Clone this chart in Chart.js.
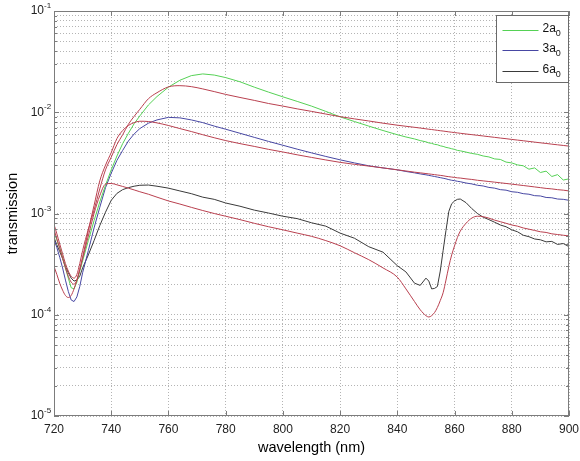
<!DOCTYPE html>
<html>
<head>
<meta charset="utf-8">
<script src="https://cdn.jsdelivr.net/npm/chart.js@4.4.1/dist/chart.umd.min.js"></script>
<style>
  html, body { margin: 0; padding: 0; background: #fff; }
</style>
</head>
<body>
<canvas id="chart" width="580" height="461"></canvas>
<script>
/* ---- wavelength grid (nm), shared by every curve ---- */
const wl = [
  720, 721, 722, 723, 724, 725, 726, 727, 728, 729, 730,
  732, 734, 736, 738, 740, 742, 744, 746, 748, 750,
  753, 756, 760, 764, 768, 772, 776, 780,
  785, 790, 795, 800, 805, 810, 815, 820, 825, 830, 835, 840,
  843, 846, 848, 850,
  851, 852, 853, 854, 855, 856, 857, 858, 859, 860, 861, 862,
  864, 866, 868, 870, 872, 874, 876, 878, 880, 882, 884, 886, 888, 890, 892, 894, 896, 898, 900
];

/* ---- measured transmission ---- */
const meas2a = [
  6.4e-4, 5.5e-4, 4.6e-4, 3.7e-4, 2.9e-4, 2.3e-4, 1.85e-4, 1.8e-4, 2.1e-4, 2.7e-4, 3.4e-4,
  5.4e-4, 8.5e-4, 1.3e-3, 1.9e-3, 2.7e-3, 3.7e-3, 4.9e-3, 6.2e-3, 7.7e-3, 9.2e-3,
  1.18e-2, 1.43e-2, 1.77e-2, 2.07e-2, 2.3e-2, 2.39e-2, 2.33e-2, 2.2e-2,
  2.0e-2, 1.77e-2, 1.58e-2, 1.42e-2, 1.28e-2, 1.15e-2, 1.02e-2, 9.0e-3, 8.1e-3, 7.3e-3, 6.6e-3, 6.0e-3,
  5.7e-3, 5.45e-3, 5.25e-3, 5.1e-3,
  4.98e-3, 4.93e-3, 4.82e-3, 4.78e-3, 4.66e-3, 4.6e-3, 4.5e-3, 4.44e-3, 4.36e-3, 4.3e-3, 4.2e-3, 4.16e-3,
  4.04e-3, 3.92e-3, 3.84e-3, 3.7e-3, 3.62e-3, 3.46e-3, 3.42e-3, 3.22e-3, 3.16e-3, 3.02e-3,
  2.96e-3, 2.74e-3, 2.82e-3, 2.54e-3, 2.62e-3, 2.32e-3, 2.42e-3, 2.14e-3, 2.2e-3
];
const meas3a = [
  5.6e-4, 4.6e-4, 3.7e-4, 2.9e-4, 2.2e-4, 1.7e-4, 1.4e-4, 1.35e-4, 1.5e-4, 1.9e-4, 2.6e-4,
  4.3e-4, 7.2e-4, 1.15e-3, 1.8e-3, 2.5e-3, 3.35e-3, 4.2e-3, 5.2e-3, 6.1e-3, 6.9e-3,
  7.8e-3, 8.4e-3, 8.9e-3, 8.8e-3, 8.4e-3, 7.9e-3, 7.3e-3, 6.8e-3,
  6.2e-3, 5.65e-3, 5.15e-3, 4.72e-3, 4.32e-3, 3.97e-3, 3.66e-3, 3.39e-3, 3.16e-3, 2.96e-3, 2.82e-3, 2.7e-3,
  2.6e-3, 2.52e-3, 2.46e-3, 2.41e-3,
  2.38e-3, 2.35e-3, 2.32e-3, 2.29e-3, 2.26e-3, 2.23e-3, 2.2e-3, 2.16e-3, 2.13e-3, 2.11e-3, 2.08e-3, 2.06e-3,
  2.0e-3, 1.96e-3, 1.9e-3, 1.87e-3, 1.81e-3, 1.78e-3, 1.72e-3, 1.7e-3, 1.64e-3, 1.62e-3,
  1.57e-3, 1.55e-3, 1.5e-3, 1.49e-3, 1.44e-3, 1.43e-3, 1.39e-3, 1.38e-3, 1.35e-3
];
const meas6a = [
  5.8e-4, 4.9e-4, 4.2e-4, 3.6e-4, 3.0e-4, 2.6e-4, 2.3e-4, 2.15e-4, 2.2e-4, 2.4e-4, 2.9e-4,
  3.9e-4, 5.4e-4, 7.6e-4, 1.03e-3, 1.35e-3, 1.58e-3, 1.72e-3, 1.8e-3, 1.86e-3, 1.9e-3,
  1.91e-3, 1.86e-3, 1.78e-3, 1.67e-3, 1.57e-3, 1.45e-3, 1.38e-3, 1.27e-3,
  1.18e-3, 1.08e-3, 1.01e-3, 9.4e-4, 8.9e-4, 8.1e-4, 7.5e-4, 6.4e-4, 5.7e-4, 4.7e-4, 4.15e-4, 3.05e-4,
  2.65e-4, 2.05e-4, 1.95e-4, 2.3e-4,
  2.15e-4, 1.8e-4, 1.82e-4, 1.9e-4, 2.7e-4, 4.3e-4, 6.8e-4, 1.05e-3, 1.25e-3, 1.33e-3, 1.38e-3, 1.39e-3,
  1.28e-3, 1.12e-3, 1.0e-3, 9.2e-4, 8.7e-4, 8.2e-4, 7.7e-4, 7.4e-4, 6.9e-4, 6.6e-4,
  6.1e-4, 5.9e-4, 5.6e-4, 5.5e-4, 5.25e-4, 5.3e-4, 4.95e-4, 5.05e-4, 4.7e-4
];

/* ---- model curves ---- */
const fit2a = [
  7.8e-4, 6.3e-4, 5.0e-4, 4.0e-4, 3.2e-4, 2.7e-4, 2.4e-4, 2.3e-4, 2.5e-4, 3.2e-4, 4.3e-4,
  7.0e-4, 1.08e-3, 1.75e-3, 2.7e-3, 3.6e-3, 4.8e-3, 6.0e-3, 7.6e-3, 9.1e-3, 1.07e-2,
  1.36e-2, 1.56e-2, 1.78e-2, 1.83e-2, 1.79e-2, 1.7e-2, 1.6e-2, 1.5e-2,
  1.4e-2, 1.31e-2, 1.22e-2, 1.15e-2, 1.08e-2, 1.02e-2, 9.6e-3, 9.05e-3, 8.6e-3, 8.2e-3, 7.8e-3, 7.45e-3,
  7.27e-3, 7.1e-3, 6.98e-3, 6.86e-3,
  6.8e-3, 6.75e-3, 6.69e-3, 6.63e-3, 6.57e-3, 6.52e-3, 6.46e-3, 6.4e-3, 6.35e-3, 6.3e-3, 6.25e-3, 6.2e-3,
  6.1e-3, 6.01e-3, 5.92e-3, 5.83e-3, 5.74e-3, 5.65e-3, 5.56e-3, 5.48e-3, 5.39e-3, 5.31e-3,
  5.23e-3, 5.15e-3, 5.07e-3, 4.99e-3, 4.92e-3, 4.84e-3, 4.77e-3, 4.7e-3, 4.63e-3
];
const fit3a = [
  7.0e-4, 5.6e-4, 4.5e-4, 3.6e-4, 2.9e-4, 2.4e-4, 2.1e-4, 2.0e-4, 2.2e-4, 2.8e-4, 3.7e-4,
  6.8e-4, 1.2e-3, 2.1e-3, 3.0e-3, 4.0e-3, 5.5e-3, 6.6e-3, 7.4e-3, 7.9e-3, 8.15e-3,
  8.1e-3, 7.85e-3, 7.4e-3, 6.9e-3, 6.45e-3, 6.0e-3, 5.6e-3, 5.25e-3,
  4.9e-3, 4.6e-3, 4.3e-3, 4.05e-3, 3.8e-3, 3.58e-3, 3.38e-3, 3.2e-3, 3.06e-3, 2.94e-3, 2.82e-3, 2.7e-3,
  2.63e-3, 2.56e-3, 2.52e-3, 2.48e-3,
  2.46e-3, 2.44e-3, 2.42e-3, 2.4e-3, 2.38e-3, 2.36e-3, 2.33e-3, 2.31e-3, 2.29e-3, 2.27e-3, 2.25e-3, 2.24e-3,
  2.2e-3, 2.17e-3, 2.13e-3, 2.1e-3, 2.07e-3, 2.04e-3, 2.01e-3, 1.98e-3, 1.95e-3, 1.92e-3,
  1.89e-3, 1.86e-3, 1.83e-3, 1.8e-3, 1.77e-3, 1.75e-3, 1.72e-3, 1.7e-3, 1.67e-3
];
const fit6a = [
  3.0e-4, 2.5e-4, 2.05e-4, 1.75e-4, 1.55e-4, 1.48e-4, 1.55e-4, 1.8e-4, 2.2e-4, 2.8e-4, 3.6e-4,
  6.0e-4, 1.0e-3, 1.5e-3, 1.95e-3, 1.98e-3, 1.92e-3, 1.85e-3, 1.78e-3, 1.71e-3, 1.64e-3,
  1.55e-3, 1.45e-3, 1.33e-3, 1.24e-3, 1.15e-3, 1.07e-3, 1.0e-3, 9.4e-4,
  8.7e-4, 8.0e-4, 7.4e-4, 6.9e-4, 6.4e-4, 5.95e-4, 5.4e-4, 4.8e-4, 4.1e-4, 3.5e-4, 2.9e-4, 2.35e-4,
  1.8e-4, 1.35e-4, 1.12e-4, 9.8e-5,
  9.5e-5, 9.8e-5, 1.05e-4, 1.18e-4, 1.38e-4, 1.65e-4, 2.2e-4, 3.0e-4, 3.9e-4, 4.8e-4, 5.8e-4, 6.7e-4,
  8.0e-4, 9.0e-4, 9.4e-4, 9.3e-4, 9.0e-4, 8.6e-4, 8.3e-4, 8.0e-4, 7.7e-4, 7.5e-4,
  7.2e-4, 7.0e-4, 6.8e-4, 6.6e-4, 6.5e-4, 6.3e-4, 6.2e-4, 6.1e-4, 6.0e-4
];

/* ---- axes ---- */
const xTicks = [720, 740, 760, 780, 800, 820, 840, 860, 880, 900];
const yDecades = [-5, -4, -3, -2, -1];
const legendNames = ['2a_0', '3a_0', '6a_0'];

const FONT = '"Liberation Sans", Arial, sans-serif';
const RED = '#b9404f';

// every 1..9 x 10^n value gets a dotted grid line
const yTicks = [];
yDecades.forEach(e => {
  for (let k = 1; k <= 9; k++) {
    if (e === -1 && k > 1) break;
    yTicks.push(Number((k * Math.pow(10, e)).toPrecision(3)));
  }
});

const pts = arr => wl.map((w, i) => ({ x: w, y: arr[i] }));

const measured = (label, data, color) => ({
  label, data: pts(data), borderColor: color, borderWidth: 1,
  pointRadius: 0, tension: 0, order: 1, inLegend: true
});
const model = data => ({
  label: 'fit', data: pts(data), borderColor: RED, borderWidth: 1,
  pointRadius: 0, cubicInterpolationMode: 'monotone', order: 0
});

/* frame, inward ticks, log labels and legend in the MATLAB look */
const matlabFrame = {
  id: 'matlabFrame',
  afterDraw(chart) {
    const { ctx, chartArea: a, scales: { x, y } } = chart;
    ctx.save();
    ctx.strokeStyle = '#7c7c7c';
    ctx.lineWidth = 1;
    ctx.beginPath();
    xTicks.forEach(v => {
      const px = Math.round(x.getPixelForValue(v)) + 0.5;
      ctx.moveTo(px, a.bottom); ctx.lineTo(px, a.bottom - 5);
      ctx.moveTo(px, a.top); ctx.lineTo(px, a.top + 5);
    });
    yTicks.forEach(v => {
      const py = Math.round(y.getPixelForValue(v)) + 0.5;
      const len = Math.abs(Math.log10(v) % 1) < 1e-9 ? 5 : 3;
      ctx.moveTo(a.left, py); ctx.lineTo(a.left + len, py);
      ctx.moveTo(a.right, py); ctx.lineTo(a.right - len, py);
    });
    ctx.stroke();
    ctx.strokeRect(Math.round(a.left) + 0.5, Math.round(a.top) + 0.5,
                   Math.round(a.width) - 1, Math.round(a.height) - 1);

    // 10^n labels
    ctx.fillStyle = '#222';
    ctx.textBaseline = 'middle';
    yDecades.forEach(e => {
      const py = y.getPixelForValue(Math.pow(10, e));
      ctx.font = '12px ' + FONT;
      ctx.textAlign = 'right';
      ctx.fillText('10', a.left - 10, py);
      ctx.font = '8px ' + FONT;
      ctx.textAlign = 'left';
      ctx.fillText(String(e), a.left - 10, py - 5);
    });

    // legend
    const items = chart.data.datasets.filter(d => d.inLegend);
    const bw = 72, bh = 67;
    const bx = Math.round(a.right) - bw - 1 + 0.5, by = Math.round(a.top) + 4 + 0.5;
    ctx.fillStyle = '#fff';
    ctx.fillRect(bx, by, bw, bh);
    ctx.strokeStyle = '#6a6a6a';
    ctx.strokeRect(bx, by, bw, bh);
    items.forEach((d, i) => {
      const ry = Math.round(by + 14 + i * 20.5) + 0.5;
      ctx.strokeStyle = d.borderColor;
      ctx.beginPath();
      ctx.moveTo(bx + 6, ry); ctx.lineTo(bx + 42, ry);
      ctx.stroke();
      const [base, sub] = d.label.split('_');
      ctx.fillStyle = '#111';
      ctx.textAlign = 'left';
      ctx.font = '12px ' + FONT;
      ctx.fillText(base, bx + 46, ry - 2);
      const w = ctx.measureText(base).width;
      ctx.font = '9px ' + FONT;
      ctx.fillText(sub, bx + 46 + w, ry + 3);
    });
    ctx.restore();
  }
};

new Chart(document.getElementById('chart'), {
  type: 'line',
  data: {
    datasets: [
      measured(legendNames[0], meas2a, '#55d155'),
      measured(legendNames[1], meas3a, '#4747a3'),
      measured(legendNames[2], meas6a, '#3a3a3a'),
      model(fit2a),
      model(fit3a),
      model(fit6a)
    ]
  },
  options: {
    responsive: false,
    animation: false,
    layout: { padding: { top: 11, right: 11, left: 0, bottom: 0 } },
    plugins: { legend: { display: false }, tooltip: { enabled: false } },
    scales: {
      x: {
        type: 'linear', min: 720, max: 900,
        afterBuildTicks: s => { s.ticks = xTicks.map(v => ({ value: v })); },
        afterFit: s => { s.height = 45; s.paddingLeft = 0; s.paddingRight = 0; },
        grid: { color: '#b4b4b4', lineWidth: 1, drawTicks: false },
        border: { display: false, dash: [1, 2] },
        ticks: { padding: 6, color: '#222', font: { family: FONT, size: 12 } },
        title: { display: true, text: 'wavelength (nm)', color: '#000',
                 font: { family: FONT, size: 14.5 }, padding: { top: 2, bottom: 4 } }
      },
      y: {
        type: 'logarithmic', min: 1e-5, max: 1e-1,
        afterBuildTicks: s => { s.ticks = yTicks.map(v => ({ value: v })); },
        afterFit: s => { s.width = 54; s.paddingTop = 0; s.paddingBottom = 0; },
        grid: { color: '#b4b4b4', lineWidth: 1, drawTicks: false },
        border: { display: false, dash: [1, 2] },
        ticks: { display: false },
        title: { display: true, text: 'transmission', color: '#000',
                 font: { family: FONT, size: 14.5 }, padding: { top: 4, bottom: 0 } }
      }
    }
  },
  plugins: [matlabFrame]
});
</script>
</body>
</html>
